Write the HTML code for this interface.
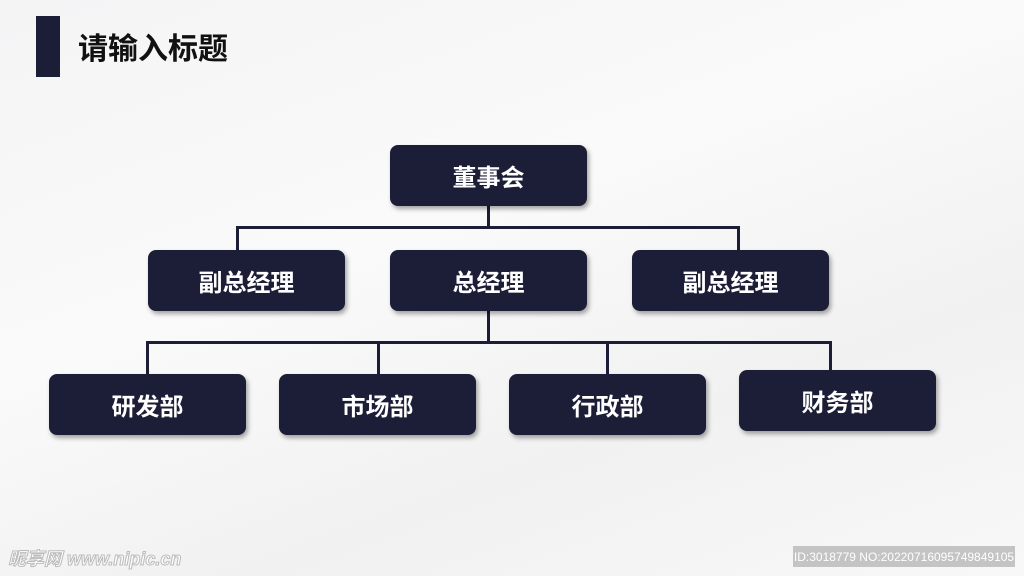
<!DOCTYPE html>
<html><head><meta charset="utf-8"><style>
body{margin:0;width:1024px;height:576px;overflow:hidden;background:linear-gradient(160deg,#f4f4f5 0%,#fafafa 40%,#f1f1f2 70%,#f8f8f8 100%);position:relative;font-family:"Liberation Sans","Noto Sans CJK SC",sans-serif}
.b{position:absolute;background:#1b1e36;border-radius:8px;color:#fff;font-size:24px;font-weight:bold;display:flex;align-items:center;justify-content:center;box-shadow:2px 3px 5px rgba(0,0,0,.35);width:197px;height:61px}
.l{position:absolute;background:#1b1e36}
</style></head><body>
<div style="position:absolute;left:36px;top:16px;width:24px;height:61px;background:#1b1e36"></div>
<div style="position:absolute;left:78px;top:24px;font-size:30px;font-weight:bold;color:#111">请输入标题</div>
<div class="l" style="left:487px;top:205px;width:3px;height:24px"></div>
<div class="l" style="left:236px;top:226px;width:504px;height:3px"></div>
<div class="l" style="left:236px;top:226px;width:3px;height:25px"></div>
<div class="l" style="left:737px;top:226px;width:3px;height:25px"></div>
<div class="l" style="left:487px;top:311px;width:3px;height:32px"></div>
<div class="l" style="left:146px;top:341px;width:686px;height:3px"></div>
<div class="l" style="left:146px;top:341px;width:3px;height:34px"></div>
<div class="l" style="left:377px;top:341px;width:3px;height:34px"></div>
<div class="l" style="left:606px;top:341px;width:3px;height:34px"></div>
<div class="l" style="left:829px;top:341px;width:3px;height:30px"></div>
<div class="b" style="left:390px;top:145px">董事会</div>
<div class="b" style="left:148px;top:250px">副总经理</div>
<div class="b" style="left:390px;top:250px">总经理</div>
<div class="b" style="left:632px;top:250px">副总经理</div>
<div class="b" style="left:49px;top:374px">研发部</div>
<div class="b" style="left:279px;top:374px">市场部</div>
<div class="b" style="left:509px;top:374px">行政部</div>
<div class="b" style="left:739px;top:370px">财务部</div>
<div style="position:absolute;left:8px;top:545px;font-size:18px;color:#fff;font-style:italic;font-weight:bold;-webkit-text-stroke:1px #bbb">昵享网 www.nipic.cn</div>
<div style="position:absolute;left:793px;top:546px;width:222px;height:21px;background:#c4c4c4;color:#fff;font-size:12px;display:flex;align-items:center;justify-content:center">ID:3018779 NO:20220716095749849105</div>
</body></html>
